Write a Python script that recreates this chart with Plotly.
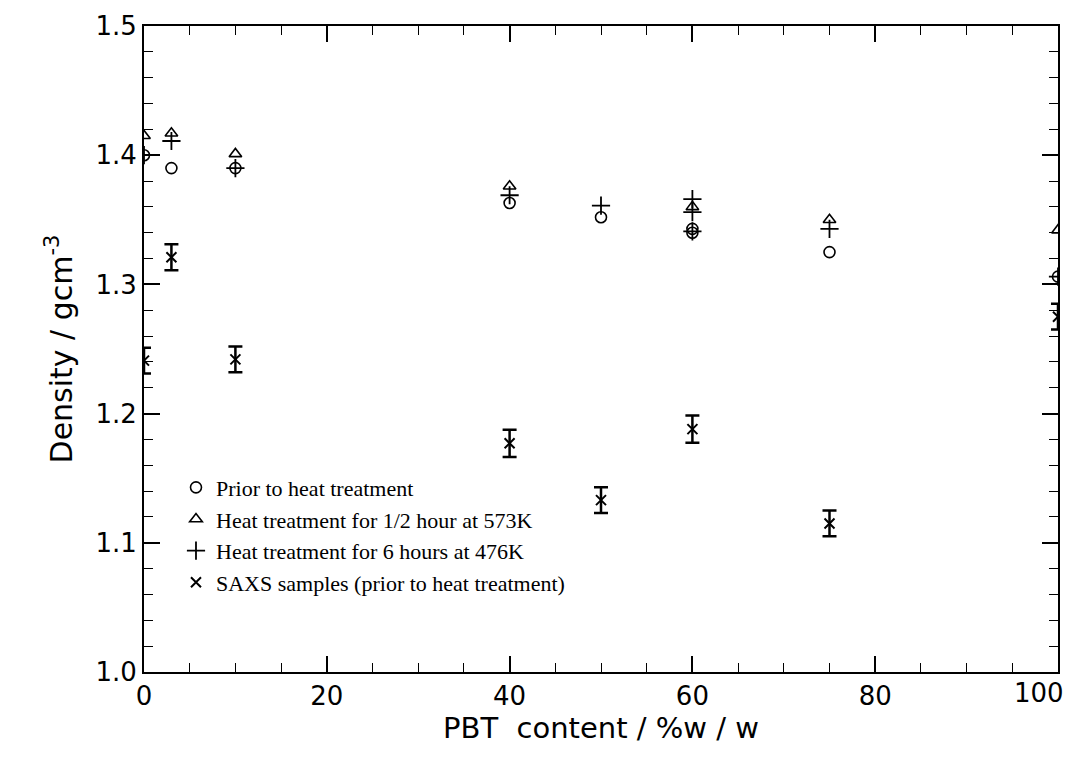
import plotly.graph_objects as go

# PBT content (%w/w) and density (g cm^-3)
pbt_prior = [0, 3, 10, 40, 50, 60, 60, 75, 100]
dens_prior = [1.400, 1.390, 1.390, 1.363, 1.352, 1.343, 1.340, 1.325, 1.306]

pbt_half = [0, 3, 10, 40, 60, 75, 100]
dens_half = [1.415, 1.417, 1.401, 1.376, 1.360, 1.350, 1.342]

pbt_six = [0, 3, 10, 40, 50, 60, 60, 60, 75, 100]
dens_six = [1.400, 1.411, 1.390, 1.369, 1.361, 1.366, 1.356, 1.341, 1.343, 1.306]

pbt_saxs = [0, 3, 10, 40, 50, 60, 75, 100]
dens_saxs = [1.241, 1.321, 1.242, 1.177, 1.133, 1.188, 1.115, 1.275]
err_saxs = [0.010, 0.010, 0.010, 0.0105, 0.010, 0.0105, 0.010, 0.010]

x_ticks = [0, 20, 40, 60, 80, 100]
x_ticktext = ["0", "20", "40", "60", "80", ""]
y_ticks = [1.0, 1.1, 1.2, 1.3, 1.4, 1.5]
y_ticktext = ["1.0", "1.1", "1.2", "1.3", "1.4", "1.5"]

fig = go.Figure()
fig.add_trace(go.Scatter(x=pbt_prior, y=dens_prior, mode="markers",
                         name="Prior to heat treatment",
                         marker=dict(symbol="circle-open", size=11, color="black",
                                     line=dict(width=1.6, color="black"))))
fig.add_trace(go.Scatter(x=pbt_half, y=dens_half, mode="markers",
                         name="Heat treatment for 1/2 hour at 573K",
                         marker=dict(symbol="triangle-up-open", size=11, color="black",
                                     line=dict(width=1.6, color="black"))))
fig.add_trace(go.Scatter(x=pbt_six, y=dens_six, mode="markers",
                         name="Heat treatment for 6 hours at 476K",
                         marker=dict(symbol="cross-thin-open", size=13, color="black",
                                     line=dict(width=1.8, color="black"))))
fig.add_trace(go.Scatter(x=pbt_saxs, y=dens_saxs, mode="markers",
                         name="SAXS samples (prior to heat treatment)",
                         error_y=dict(type="data", array=err_saxs, visible=True,
                                      color="black", thickness=2.5, width=7),
                         marker=dict(symbol="x-thin-open", size=10, color="black",
                                     line=dict(width=2, color="black"))))

tick_font = dict(family="DejaVu Sans", size=26, color="black")
axis_common = dict(
    showline=True, linecolor="black", linewidth=2, mirror="allticks",
    ticks="inside", ticklen=16, tickwidth=1.6, tickcolor="black",
    showgrid=False, zeroline=False,
    tickfont=tick_font,
)

fig.update_xaxes(range=[0, 100], tickvals=x_ticks, ticktext=x_ticktext,
                 minor=dict(dtick=5, ticks="inside", ticklen=9, tickwidth=1.4,
                            tickcolor="black", showgrid=False),
                 **axis_common)
fig.update_yaxes(range=[1.0, 1.5], tickvals=y_ticks, ticktext=y_ticktext,
                 minor=dict(dtick=0.02, ticks="inside", ticklen=9, tickwidth=1.4,
                            tickcolor="black", showgrid=False),
                 title=dict(text="Density / gcm<sup>-3</sup>",
                            font=dict(family="DejaVu Sans", size=30, color="black"),
                            standoff=14),
                 **axis_common)

# last x tick label sits flush with the right edge, as in the reference
fig.add_annotation(x=x_ticks[-1], y=0, xref="x", yref="paper",
                   text=str(x_ticks[-1]), showarrow=False,
                   xanchor="right", yanchor="top", xshift=8, yshift=-4,
                   font=tick_font)

# x-axis title
fig.add_annotation(x=0.5, y=0, xref="paper", yref="paper",
                   text="PBT  content / %w / w", showarrow=False,
                   xanchor="center", yanchor="top", yshift=-37,
                   font=dict(family="DejaVu Sans", size=29, color="black"))

fig.update_layout(
    width=1071, height=758,
    margin=dict(l=144, r=11, t=25, b=86),
    paper_bgcolor="white", plot_bgcolor="white",
    showlegend=True,
    legend=dict(x=0.035, y=0.318, xanchor="left", yanchor="top",
                bgcolor="rgba(0,0,0,0)", borderwidth=0,
                font=dict(family="Liberation Serif", size=22, color="black"),
                tracegroupgap=0, itemwidth=30),
)

fig.write_html("out.html")
